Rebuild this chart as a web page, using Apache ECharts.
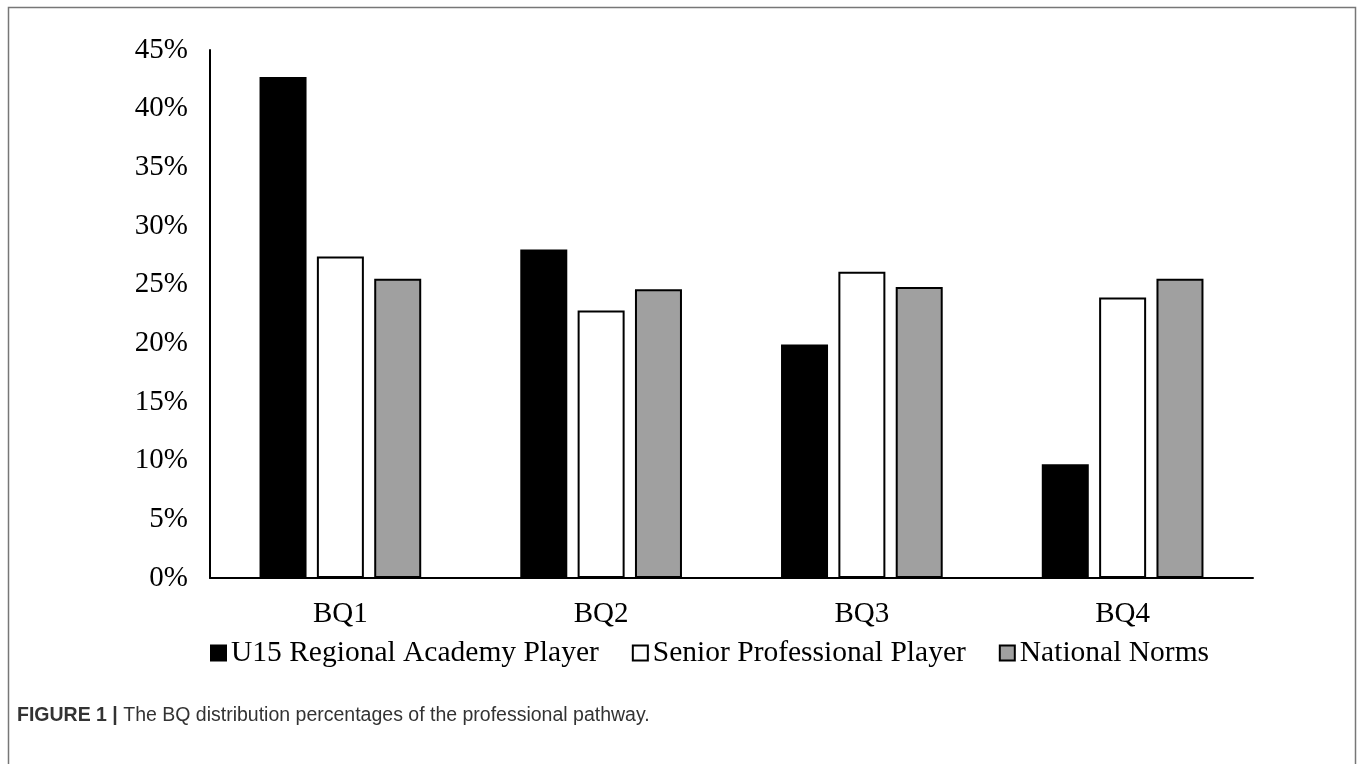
<!DOCTYPE html>
<html>
<head>
<meta charset="utf-8">
<script src="https://cdn.jsdelivr.net/npm/echarts@6/dist/echarts.min.js"></script>
<style>
html,body{margin:0;padding:0;background:#fff;}
#chart{width:1357px;height:764px;}
</style>
</head>
<body>
<div id="chart"></div>
<script>
const categories = ['BQ1', 'BQ2', 'BQ3', 'BQ4'];
const seriesNames = ['U15 Regional Academy Player', 'Senior Professional Player', 'National Norms'];
const u15Values = [42.7, 28.0, 19.9, 9.7];
const seniorValues = [27.4, 22.8, 26.1, 23.9];
const nationalValues = [25.5, 24.6, 24.8, 25.5];
const yTicks = { min: 0, max: 45, interval: 5 };
const captionBold = 'FIGURE 1 |';
const captionText = ' The BQ distribution percentages of the professional pathway.';

const serif = '"Liberation Serif", "Times New Roman", serif';
const chart = echarts.init(document.getElementById('chart'), null, { renderer: 'canvas' });

function bar(name, data, fill) {
  return {
    name: name,
    type: 'bar',
    data: data,
    barWidth: 47,
    barGap: '22%',
    itemStyle: { color: fill, borderColor: '#000', borderWidth: 2 },
    emphasis: { disabled: true }
  };
}

chart.setOption({
  animation: false,
  backgroundColor: '#fff',
  title: {
    left: 12,
    top: 701,
    text: '{b|' + captionBold + '}{n|' + captionText + '}',
    textStyle: {
      fontWeight: 'normal',
      rich: {
        b: { fontFamily: '"Liberation Sans", Arial, sans-serif', fontWeight: 'bold', fontSize: 19.5, color: '#333' },
        n: { fontFamily: '"Liberation Sans", Arial, sans-serif', fontWeight: 'normal', fontSize: 19.5, color: '#333' }
      }
    }
  },
  graphic: [{
    type: 'rect',
    shape: { x: 8.5, y: 7.5, width: 1347, height: 800 },
    style: { fill: 'none', stroke: '#777', lineWidth: 1.5 },
    silent: true
  }],
  legend: {
    left: 205,
    top: 633,
    icon: 'rect',
    itemWidth: 15,
    itemHeight: 15,
    itemGap: 33,
    textStyle: { fontFamily: serif, fontSize: 29.5, color: '#000' },
    data: seriesNames
  },
  grid: { left: 210, right: 104, top: 50, bottom: 186 },
  xAxis: {
    type: 'category',
    data: categories,
    axisLine: { lineStyle: { color: '#000', width: 2 } },
    axisTick: { show: false },
    axisLabel: { fontFamily: serif, fontSize: 29, color: '#000', margin: 22 }
  },
  yAxis: {
    type: 'value',
    min: yTicks.min,
    max: yTicks.max,
    interval: yTicks.interval,
    axisLine: { show: true, lineStyle: { color: '#000', width: 2 } },
    axisTick: { show: false },
    splitLine: { show: false },
    axisLabel: { formatter: '{value}%', fontFamily: serif, fontSize: 29, color: '#000', margin: 22 }
  },
  series: [
    bar(seriesNames[0], u15Values, '#000'),
    bar(seriesNames[1], seniorValues, '#fff'),
    bar(seriesNames[2], nationalValues, '#a0a0a0')
  ]
});
</script>
</body>
</html>
